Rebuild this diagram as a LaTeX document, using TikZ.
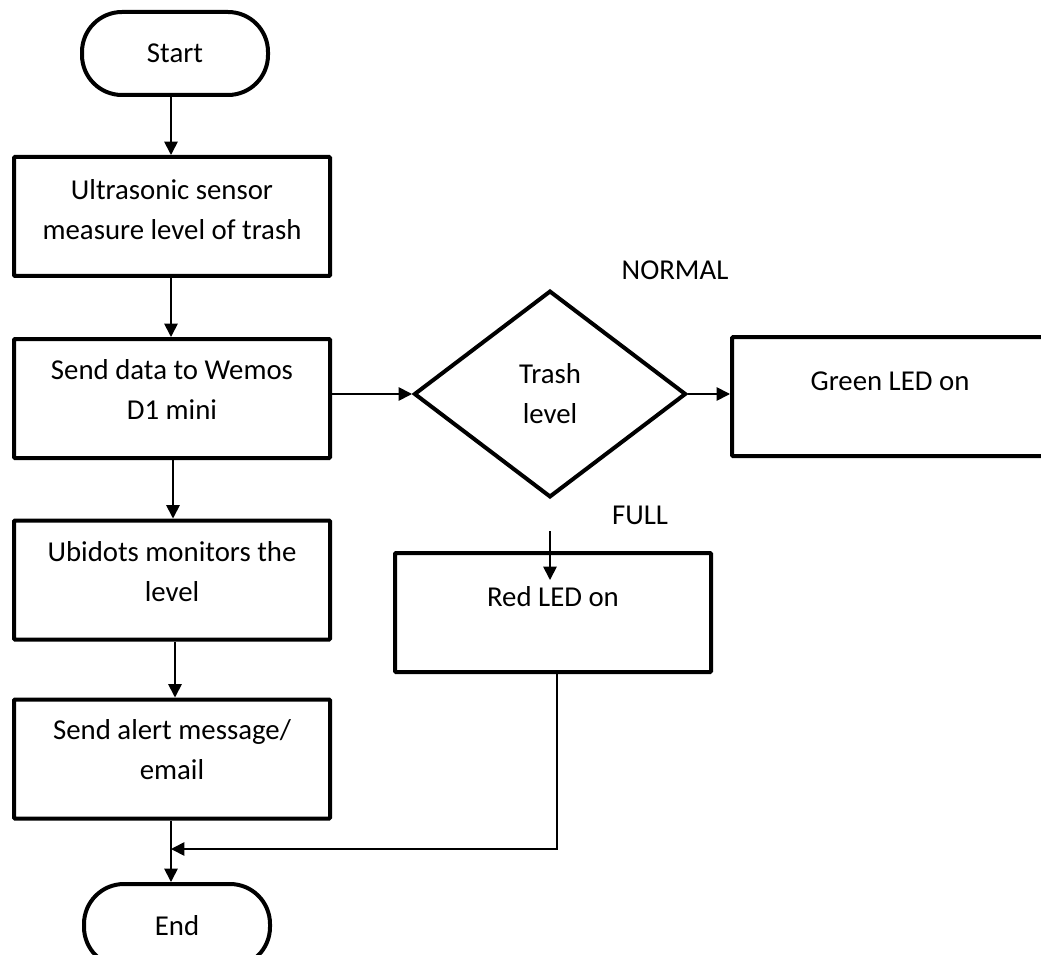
\documentclass[tikz,border=0pt]{standalone}
\usepackage{fontspec}
\setmainfont{Carlito}
\usetikzlibrary{arrows.meta,shapes.geometric}
\newcommand\flowfont{\fontsize{21.6pt}{30pt}\selectfont}
\begin{document}
\begin{tikzpicture}[x=0.75pt,y=-0.75pt,
  box/.style={draw, line width=3pt, rounded corners=0.8pt, minimum width=237pt, minimum height=89.25pt, inner sep=0pt},
  term/.style={draw, line width=3pt, rounded corners=30pt, minimum width=139.5pt, minimum height=62.25pt, inner sep=0pt, font=\flowfont},
  decision/.style={diamond, draw, line width=3pt, minimum width=204pt, minimum height=155pt, inner sep=0pt, align=center, font=\flowfont},
  txt/.style={align=center, inner sep=0pt, font=\flowfont},
  conn/.style={line width=1.3pt, -{Triangle[length=10pt,width=10pt]}}]
\path[use as bounding box] (0,0) rectangle (1041,955);
\clip (0,0) rectangle (1041,955);
\fill[white] (0,0) rectangle (1041,955);

% left column
\node[term] (start) at (175,53.5) {Start};
\node[box] (b1) at (172,216.5) {};
\node[txt] (t1) at (172,210) {Ultrasonic sensor\\measure level of trash};
\node[box] (b2) at (172,398.5) {};
\node[txt] (t2) at (172,389) {Send data to Wemos\\D1 mini};
\node[box] (b3) at (172,580) {};
\node[txt] (t3) at (172,572) {Ubidots monitors the\\level};
\node[box] (b4) at (172,759) {};
\node[txt] (t4) at (172,750) {Send alert message/\\email};
\node[term] (end) at (177,925.5) {End};

% decision and branches
\node[decision] (dec) at (550,394) {Trash\\level};
\node[box] (green) at (890,396.5) {};
\node[txt] (tg) at (890,381.5) {Green LED on};
\node[box] (red) at (553,612.5) {};
\node[txt] (tr) at (553,597) {Red LED on};
\node[txt] (normal) at (675,270) {NORMAL};
\node[txt] (full) at (640,515) {FULL};

\coordinate (merge) at (171,849);

% connectors
\draw[conn] ([xshift=-3pt]start.south) -- ([xshift=-3pt]start.south |- b1.north);
\draw[conn] ([xshift=-0.75pt]b1.south) -- ([xshift=-0.75pt]b2.north);
\draw[conn] ([xshift=0.75pt]b2.south) -- ([xshift=0.75pt]b3.north);
\draw[conn] ([xshift=2.25pt]b3.south) -- ([xshift=2.25pt]b4.north);
\draw[conn] ([xshift=-0.75pt]b4.south) -- ([xshift=-0.75pt]b4.south |- end.north);
\draw[conn] (dec.west -| b2.east) -- (dec.west);
\draw[conn] (dec.east) -- (dec.east -| green.west);
\draw[conn] ([yshift=-24pt]dec.south) -- ([yshift=-21.75pt]red.north -| dec.south);
\draw[conn] ([xshift=3pt]red.south) |- (merge);
\end{tikzpicture}
\end{document}
